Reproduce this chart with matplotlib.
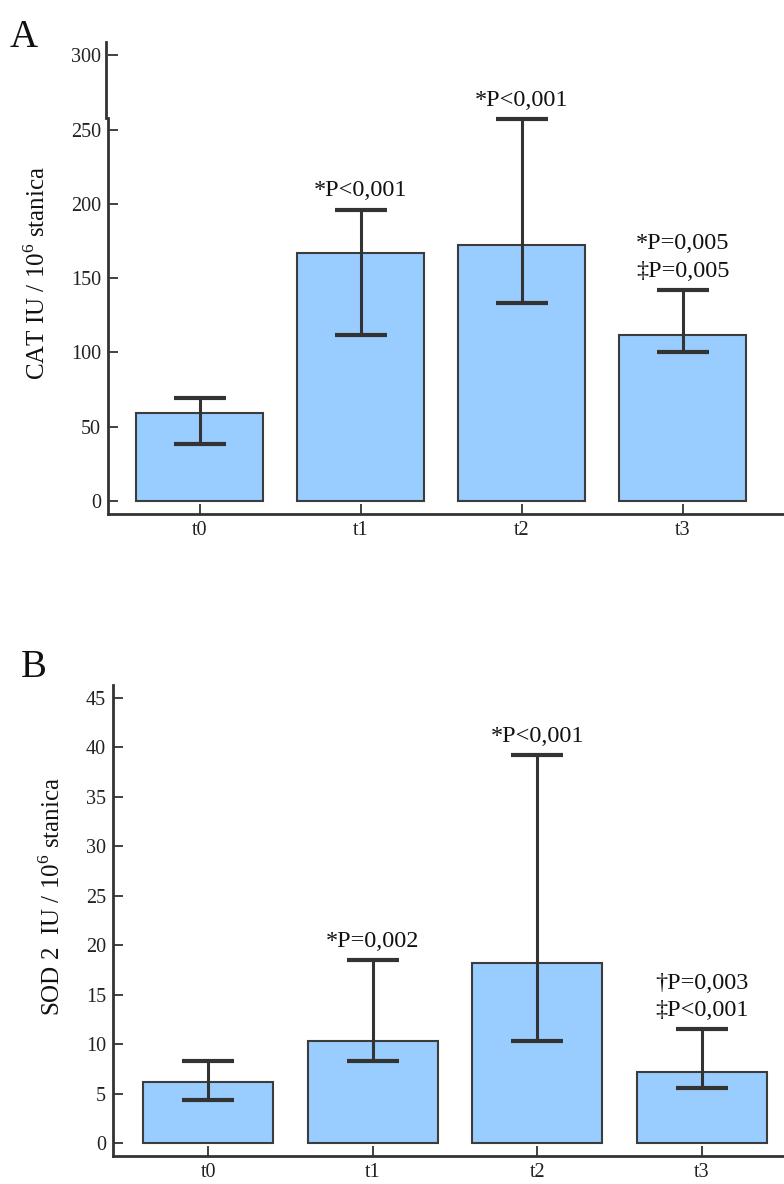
import numpy as np
import matplotlib.pyplot as plt
from matplotlib.transforms import blended_transform_factory

plt.rcParams['font.family'] = ['Liberation Serif', 'DejaVu Serif']
plt.rcParams['mathtext.fontset'] = 'custom'
plt.rcParams['mathtext.rm'] = 'Liberation Serif'

groups = ["t0", "t1", "t2", "t3"]

# Panel A - CAT
cat_mean = [59, 167, 172, 112]
cat_low = [38, 112, 133, 100]
cat_high = [69, 196, 257, 142]
cat_notes = ["", "*P<0,001", "*P<0,001", "*P=0,005\n‡P=0,005"]

# Panel B - SOD 2
sod_mean = [6.2, 10.3, 18.2, 7.2]
sod_low = [4.4, 8.3, 10.3, 5.6]
sod_high = [8.3, 18.5, 39.2, 11.5]
sod_notes = ["", "*P=0,002", "*P<0,001", "†P=0,003\n‡P<0,001"]

bar_color = "#99ccff"
edge = "#3c3c3c"
dark = "#333333"

fig = plt.figure(figsize=(7.84, 11.84), dpi=100)


def panel(rect, mean, low, high, notes, ylim, yticks, xlim, ylabel, labelpad, label_y,
          letter, letter_pos, bar_w):
    ax = fig.add_axes(rect)
    x = np.arange(len(groups))
    mean = np.array(mean)
    yerr = [mean - np.array(low), np.array(high) - mean]
    ax.bar(x, mean, width=bar_w, color=bar_color, edgecolor=edge, linewidth=1.5, zorder=2)
    ax.errorbar(x, mean, yerr=yerr, fmt="none", ecolor=dark, elinewidth=2.2,
                capsize=19, capthick=3, zorder=3)
    for xi, h, note in zip(x, high, notes):
        if note:
            ax.annotate(note, (xi, h), xytext=(0, 6), textcoords="offset points",
                        ha="center", va="bottom", fontsize=17.5, color="#111111",
                        linespacing=1.4)
    ax.set_xlim(*xlim)
    ax.set_ylim(*ylim)
    ax.set_yticks(yticks)
    ax.set_xticks(x)
    ax.set_xticklabels(groups)
    for s in ["top", "right"]:
        ax.spines[s].set_visible(False)
    for s in ["left", "bottom"]:
        ax.spines[s].set_linewidth(2)
        ax.spines[s].set_color(dark)
    ax.tick_params(axis="y", direction="in", length=7, width=1.3, color=dark,
                   labelsize=14.5, pad=5, labelcolor="#222222")
    ax.tick_params(axis="x", direction="in", length=7, width=1.3, color=dark,
                   labelsize=14.5, pad=5, labelcolor="#222222")
    ax.set_ylabel(ylabel, fontsize=18, labelpad=labelpad, color="#111111")
    ax.yaxis.label.set_y(label_y)
    fig.text(letter_pos[0], letter_pos[1], letter, fontsize=28, color="#111111",
             ha="left", va="top")
    return ax


axA = panel([0.138, 0.566, 0.862, 0.3985], cat_mean, cat_low, cat_high, cat_notes,
            (-8.8, 309), np.arange(0, 301, 50), (-0.57, 3.63),
            "CAT IU / 10$^6$ stanica", 15, 0.51, "A", (0.012, 0.984), 0.79)
# broken-looking top part of the left spine
axA.spines["left"].set_bounds(-8.8, 258)
tr = blended_transform_factory(axA.transAxes, axA.transData)
axA.plot([-0.003, -0.003], [258, 309], transform=tr, color=dark, lw=2, clip_on=False)

axB = panel([0.144, 0.0236, 0.856, 0.398], sod_mean, sod_low, sod_high, sod_notes,
            (-1.3, 46.3), np.arange(0, 46, 5), (-0.58, 3.5),
            "SOD 2  IU / 10$^6$ stanica", 15, 0.55, "B", (0.027, 0.452), 0.79)

fig.savefig("out.png", dpi=100)
